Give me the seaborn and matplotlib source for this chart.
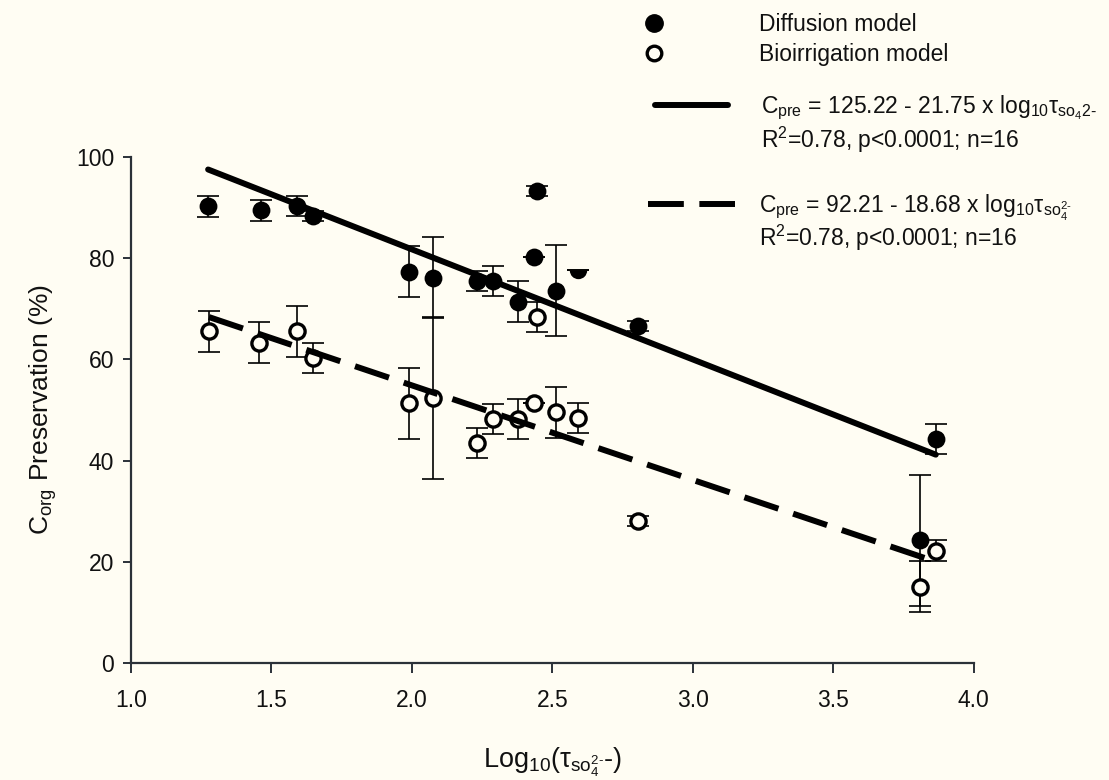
import numpy as np
import pandas as pd
import matplotlib
matplotlib.use("Agg")
import matplotlib.pyplot as plt
from matplotlib.lines import Line2D
import seaborn as sns

# データ
diff_x = [1.275, 1.462, 1.590, 1.647, 1.989, 2.074, 2.232, 2.289, 2.378, 2.434, 2.446, 2.515, 2.592, 2.805, 3.808, 3.865]
diff_y = [90.2, 89.4, 90.3, 88.3, 77.3, 76.1, 75.4, 75.5, 71.4, 80.3, 93.3, 73.5, 77.7, 66.5, 24.2, 44.2]
diff_err = [2, 2, 2, 1, 5, 8, 2, 3, 4, 0, 1, 9, 0, 1, 13, 3]

bio_x = [1.278, 1.455, 1.592, 1.650, 1.989, 2.074, 2.232, 2.289, 2.378, 2.434, 2.446, 2.515, 2.592, 2.805, 3.808, 3.867]
bio_y = [65.5, 63.3, 65.5, 60.2, 51.3, 52.3, 43.4, 48.2, 48.2, 51.4, 68.3, 49.5, 48.4, 28.1, 15.1, 22.2]
bio_err = [4, 4, 5, 3, 7, 16, 3, 3, 4, 0, 3, 5, 3, 1, 5, 2]

# 回帰式の係数
diff_fit = (125.22, -21.75)
bio_fit = (92.21, -18.68)

eq_diff = r"C$_{\rm pre}$ = 125.22 - 21.75 x log$_{10}$$\tau_{\rm so_42\text{-}}$"
eq_bio = r"C$_{\rm pre}$ = 92.21 - 18.68 x log$_{10}$$\tau_{\rm so_4^{2\text{-}}}$"
stat_text = r"R$^2$=0.78, p<0.0001; n=16"

# 一部が隠れている点
hidden_idx = 12

bg = "#fffdf3"
ink = "#111111"
sns.set_style("ticks")
plt.rcParams["font.family"] = ["Liberation Sans", "DejaVu Sans"]
plt.rcParams["mathtext.fontset"] = "custom"
plt.rcParams["mathtext.rm"] = "Liberation Sans"
plt.rcParams["mathtext.it"] = "Liberation Sans:italic"
plt.rcParams["mathtext.default"] = "regular"
plt.rcParams["text.color"] = ink

fig = plt.figure(figsize=(11.09, 7.8), dpi=100, facecolor=bg)
ax = fig.add_axes([0.118, 0.15, 0.760, 0.649])
ax.set_facecolor(bg)

df_diff = pd.DataFrame({"x": diff_x, "y": diff_y, "err": diff_err})
df_bio = pd.DataFrame({"x": bio_x, "y": bio_y, "err": bio_err})

# エラーバー
ax.errorbar(df_diff["x"], df_diff["y"], yerr=df_diff["err"], fmt="none", ecolor="black",
            elinewidth=1.2, capsize=8, capthick=1.2, zorder=1)
ax.errorbar(df_bio["x"], df_bio["y"], yerr=df_bio["err"], fmt="none", ecolor="black",
            elinewidth=1.2, capsize=8, capthick=1.2, zorder=1)

# 点
shown = df_diff.drop(index=hidden_idx)
sns.scatterplot(data=shown, x="x", y="y", ax=ax, color="black", s=165,
                edgecolor="black", linewidth=0, zorder=3)
ax.plot(df_diff.loc[hidden_idx, "x"], df_diff.loc[hidden_idx, "y"], marker="o",
        fillstyle="bottom", markersize=12.5, markerfacecolor="black",
        markeredgewidth=0, linestyle="none", zorder=3)
sns.scatterplot(data=df_bio, x="x", y="y", ax=ax, s=120, facecolor=bg,
                edgecolor="black", linewidth=2.4, zorder=3)

# 回帰直線
xs_d = np.array([min(diff_x), max(diff_x)])
xs_b = np.array([min(bio_x), max(bio_x)])
fit_d = pd.DataFrame({"x": xs_d, "y": diff_fit[0] + diff_fit[1] * xs_d})
fit_b = pd.DataFrame({"x": xs_b, "y": bio_fit[0] + bio_fit[1] * xs_b})
sns.lineplot(data=fit_d, x="x", y="y", ax=ax, color="black", linewidth=4.3, zorder=4)
sns.lineplot(data=fit_b, x="x", y="y", ax=ax, color="black", linewidth=4.3, zorder=4,
             dashes=False)
ax.lines[-1].set_dashes((6, 2.6))

# 軸
ax.set_xlim(1.0, 4.0)
ax.set_ylim(0, 100)
ax.set_xticks(np.arange(1.0, 4.01, 0.5))
ax.set_xticklabels([f"{v:.1f}" for v in np.arange(1.0, 4.01, 0.5)])
ax.set_yticks(np.arange(0, 101, 20))
for s in ["top", "right"]:
    ax.spines[s].set_visible(False)
for s in ["left", "bottom"]:
    ax.spines[s].set_linewidth(1.6)
    ax.spines[s].set_color("#2b3138")
ax.tick_params(axis="x", direction="out", length=7, width=1.4, color="#2b3138",
               labelsize=16.5, labelcolor=ink, pad=12)
ax.tick_params(axis="y", direction="out", length=6, width=1.4, color="#2b3138",
               labelsize=16.5, labelcolor=ink, pad=6)
ax.set_xlabel(r"Log$_{10}$($\tau_{\rm so_4^{2\text{-}}}$-)", fontsize=19.5, labelpad=24,
              color=ink)
ax.set_ylabel(r"C$_{\rm org}$ Preservation (%)", fontsize=19, labelpad=12, color=ink)

# 凡例
blank = Line2D([], [], alpha=0)
h_fill = Line2D([], [], marker="o", color="black", linestyle="none", markersize=12.5)
h_open = Line2D([], [], marker="o", color="black", markerfacecolor=bg, linestyle="none",
                markersize=10.5, markeredgewidth=2.4)
leg1 = fig.legend([h_fill, h_open], ["Diffusion model", "Bioirrigation model"],
                  loc="upper left", bbox_to_anchor=(0.569, 0.998), frameon=False,
                  fontsize=16.5, handlelength=1.0, handletextpad=4.1, labelspacing=0.3,
                  borderpad=0)
h_solid = Line2D([], [], color="black", linewidth=4.3)
h_dash = Line2D([], [], color="black", linewidth=4.3, dashes=(6, 2.6))
leg2 = fig.legend([h_solid, blank], [eq_diff, stat_text], loc="upper left",
                  bbox_to_anchor=(0.58, 0.895), frameon=False, fontsize=16.5,
                  handlelength=3.2, handletextpad=1.45, labelspacing=0.12, borderpad=0)
leg3 = fig.legend([h_dash, blank], [eq_bio, stat_text], loc="upper left",
                  bbox_to_anchor=(0.574, 0.768), frameon=False, fontsize=16.5,
                  handlelength=3.8, handletextpad=1.05, labelspacing=0.0, borderpad=0)

plt.savefig("out.png", dpi=100, facecolor=bg)
plt.close()
